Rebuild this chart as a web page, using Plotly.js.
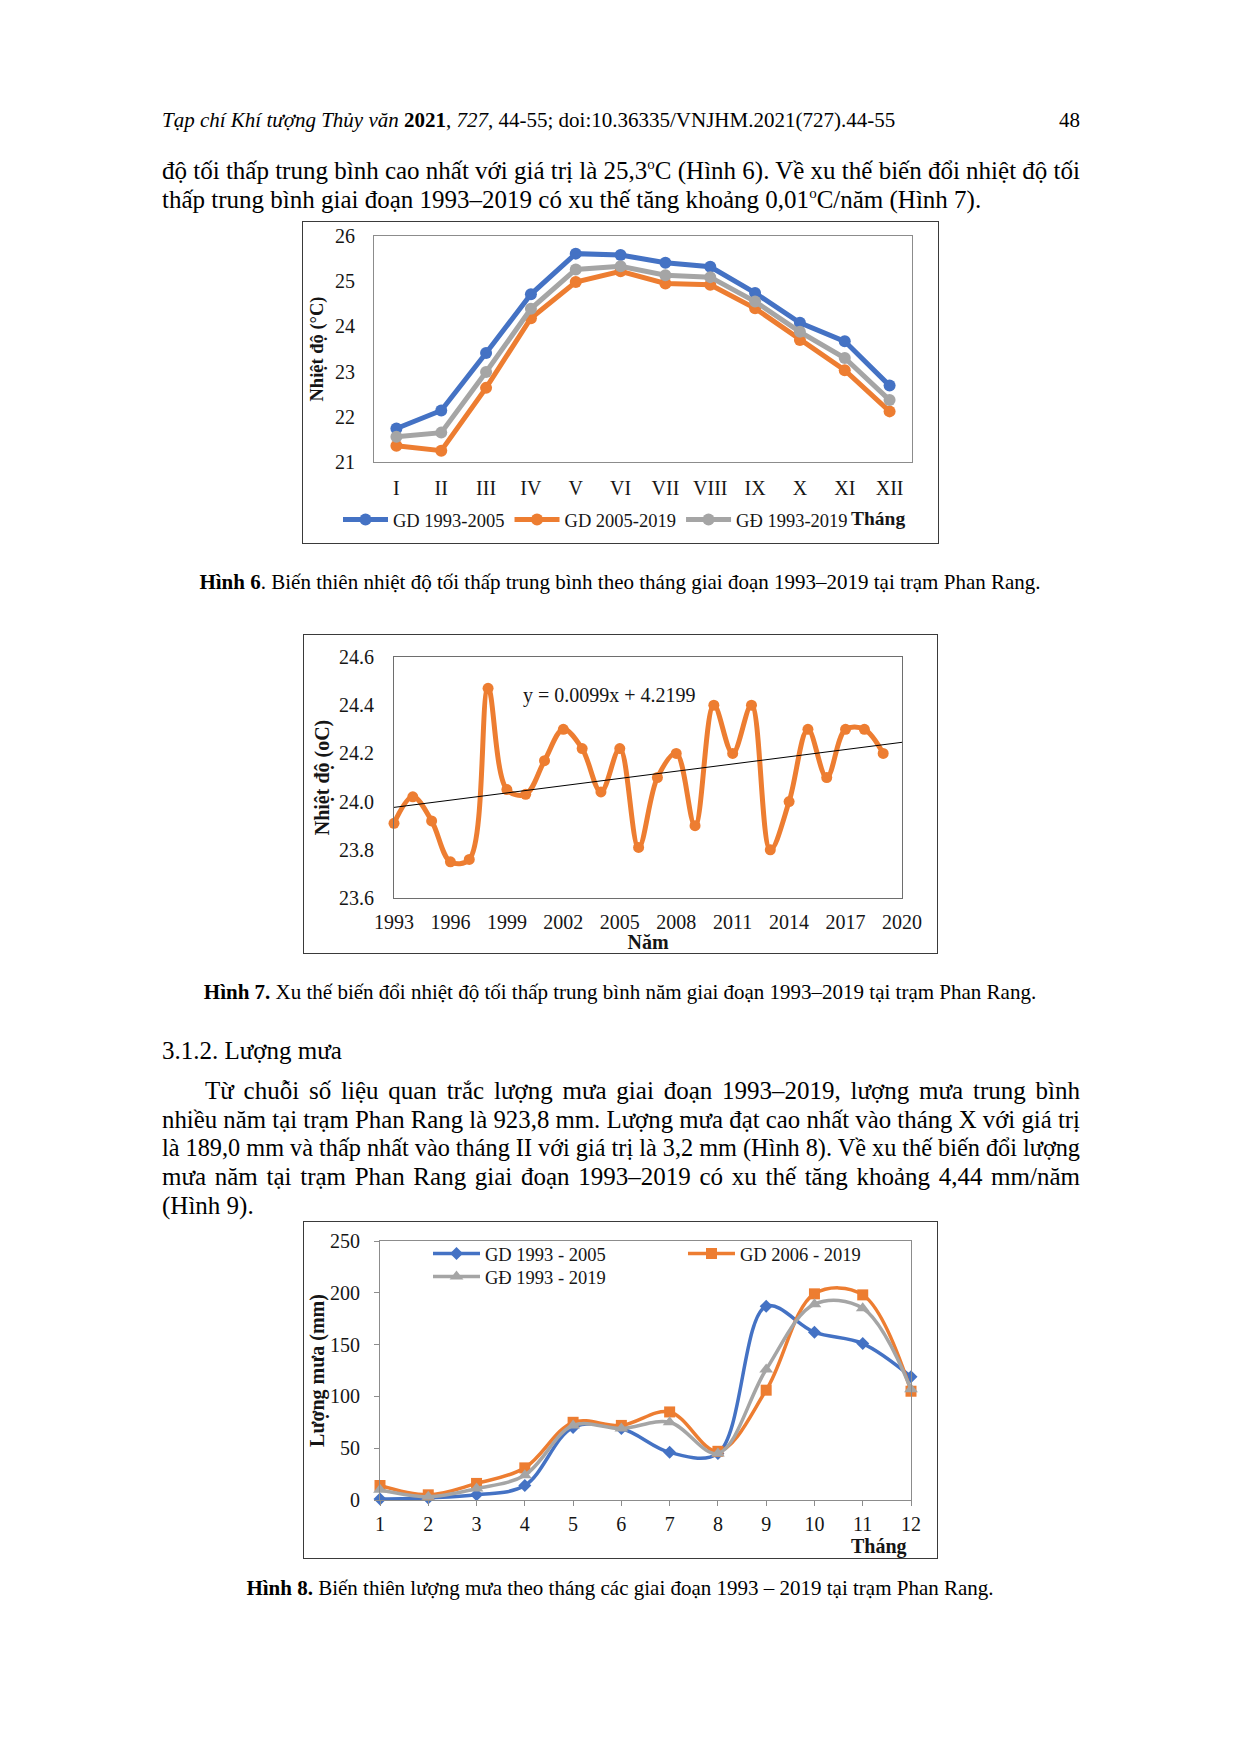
<!DOCTYPE html>
<html>
<head>
<meta charset="utf-8">
<script src="https://cdn.plot.ly/plotly-3.0.1.min.js"></script>
<style>
html,body{margin:0;padding:0;background:#fff;}
#page{position:relative;width:1240px;height:1753px;background:#fff;font-family:"Liberation Serif","Times New Roman",serif;color:#000;overflow:hidden;}
.t{position:absolute;white-space:nowrap;}
.body{font-size:25px;line-height:29px;}
.cap{font-size:21px;line-height:24px;left:0;width:1240px;text-align:center;}
sup{font-size:0.6em;line-height:0;vertical-align:0.65em;}
.frame{position:absolute;box-sizing:border-box;border:1.5px solid #3a3a3a;pointer-events:none;}
.chart{position:absolute;}
</style>
</head>
<body>
<div id="page">

<div class="t" style="left:162px;top:108px;font-size:21px;line-height:24px;"><i>Tạp chí Khí tượng Thủy văn</i> <b>2021</b>, <i>727</i>, 44-55; doi:10.36335/VNJHM.2021(727).44-55</div>
<div class="t" style="left:1040px;width:40px;text-align:right;top:108px;font-size:21px;line-height:24px;">48</div>

<div class="t body" style="left:162px;top:156px;"><span class="jl" data-w="918">độ tối thấp trung bình cao nhất với giá trị là 25,3<sup>o</sup>C (Hình 6). Về xu thế biến đổi nhiệt độ tối</span></div>
<div class="t body" style="left:162px;top:185px;"><span>thấp trung bình giai đoạn 1993–2019 có xu thế tăng khoảng 0,01<sup>o</sup>C/năm (Hình 7).</span></div>

<div id="c1" class="chart" style="left:302px;top:221px;width:636px;height:362px;"></div>
<div class="frame" style="left:302px;top:221px;width:637px;height:323px;"></div>

<div class="t cap" style="top:570px;"><b>Hình 6</b>. Biến thiên nhiệt độ tối thấp trung bình theo tháng giai đoạn 1993–2019 tại trạm Phan Rang.</div>

<div id="c2" class="chart" style="left:303px;top:634px;width:634px;height:319px;"></div>
<div class="frame" style="left:303px;top:634px;width:635px;height:320px;"></div>

<div class="t cap" style="top:980px;"><b>Hình 7.</b> Xu thế biến đổi nhiệt độ tối thấp trung bình năm giai đoạn 1993–2019 tại trạm Phan Rang.</div>

<div class="t body" style="left:162px;top:1036px;">3.1.2. Lượng mưa</div>

<div class="t body" style="left:205px;top:1076px;"><span class="jl" data-w="875">Từ chuỗi số liệu quan trắc lượng mưa giai đoạn 1993–2019, lượng mưa trung bình</span></div>
<div class="t body" style="left:162px;top:1105px;"><span class="jl" data-w="918">nhiều năm tại trạm Phan Rang là 923,8 mm. Lượng mưa đạt cao nhất vào tháng X với giá trị</span></div>
<div class="t body" style="left:162px;top:1133px;"><span class="jl" data-w="918">là 189,0 mm và thấp nhất vào tháng II với giá trị là 3,2 mm (Hình 8). Về xu thế biến đổi lượng</span></div>
<div class="t body" style="left:162px;top:1162px;"><span class="jl" data-w="918">mưa năm tại trạm Phan Rang giai đoạn 1993–2019 có xu thế tăng khoảng 4,44 mm/năm</span></div>
<div class="t body" style="left:162px;top:1191px;"><span>(Hình 9).</span></div>

<div id="c3" class="chart" style="left:303px;top:1221px;width:634px;height:337px;"></div>
<div class="frame" style="left:303px;top:1221px;width:635px;height:338px;"></div>

<div class="t cap" style="top:1576px;"><b>Hình 8.</b> Biến thiên lượng mưa theo tháng các giai đoạn 1993 – 2019 tại trạm Phan Rang.</div>

</div>

<script>
// ---------- Data ----------
// Figure 6: monthly mean minimum temperature (°C)
const months = ['I','II','III','IV','V','VI','VII','VIII','IX','X','XI','XII'];
const tmin_1993_2005 = [21.74, 22.14, 23.41, 24.71, 25.61, 25.58, 25.41, 25.32, 24.74, 24.08, 23.67, 22.69];
const tmin_2005_2019 = [21.36, 21.25, 22.64, 24.18, 24.98, 25.22, 24.95, 24.92, 24.40, 23.70, 23.03, 22.12];
const tmin_1993_2019 = [21.56, 21.65, 22.99, 24.39, 25.26, 25.33, 25.13, 25.09, 24.55, 23.88, 23.30, 22.37];
const fig6Names = ['GD 1993-2005', 'GD 2005-2019', 'GĐ 1993-2019'];
const fig6Ticks = [21, 22, 23, 24, 25, 26];

// Figure 7: annual mean minimum temperature (°C)
const years = [1993,1994,1995,1996,1997,1998,1999,2000,2001,2002,2003,2004,2005,2006,2007,2008,2009,2010,2011,2012,2013,2014,2015,2016,2017,2018,2019];
const tminAnnual = [23.91,24.02,23.92,23.75,23.76,24.47,24.05,24.03,24.17,24.30,24.22,24.04,24.22,23.81,24.10,24.20,23.90,24.40,24.20,24.40,23.80,24.00,24.30,24.10,24.30,24.30,24.20];
const trendYears = [1993, 2020];
const trendValues = [23.976, 24.246];
const trendLabel = 'y = 0.0099x + 4.2199';
const fig7YearTicks = [1993,1996,1999,2002,2005,2008,2011,2014,2017,2020];
const fig7TempTicks = [23.6,23.8,24.0,24.2,24.4,24.6];

// Figure 8: monthly rainfall (mm)
const monthNums = [1,2,3,4,5,6,7,8,9,10,11,12];
const rain_1993_2005 = [1, 2, 5, 14, 70, 69, 46, 45, 187, 162, 151, 119];
const rain_2006_2019 = [14, 5, 16, 31, 75, 72, 85, 47, 106, 199, 198, 105];
const rain_1993_2019 = [10, 3.2, 11, 24, 72, 69, 75, 45, 126, 189, 185, 107];
const fig8Names = ['GD 1993 - 2005', 'GD 2006 - 2019', 'GĐ 1993 - 2019'];
const fig8Ticks = [0, 50, 100, 150, 200, 250];

// ---------- Styles ----------
const FONT = 'Liberation Serif, Times New Roman, serif';
const BLUE = '#4472C4', ORANGE = '#ED7D31', GRAY = '#A5A5A5';
const TXT = '#151515';
const cfg = {staticPlot: true, displayModeBar: false};

// ---------- Figure 6 ----------
function lm(x, y, name, color) {
  return {x: x, y: y, name: name, type: 'scatter', mode: 'lines+markers',
    line: {color: color, width: 5}, marker: {size: 12, color: color}, cliponaxis: false};
}
Plotly.newPlot('c1', [
  lm(months, tmin_1993_2005, fig6Names[0], BLUE),
  lm(months, tmin_2005_2019, fig6Names[1], ORANGE),
  lm(months, tmin_1993_2019, fig6Names[2], GRAY)
], {
  width: 636, height: 362,
  margin: {l: 72, r: 26, t: 15, b: 121, pad: 0},
  paper_bgcolor: 'rgba(0,0,0,0)', plot_bgcolor: '#fff',
  font: {family: FONT, size: 18.5, color: TXT},
  showlegend: true,
  xaxis: {type: 'category', range: [-0.5, 11.5], showgrid: false, zeroline: false,
    showline: true, mirror: true, linecolor: '#8c8c8c', linewidth: 1,
    ticks: '', ticklabelstandoff: 8, tickfont: {size: 20}},
  yaxis: {range: [21, 26], tickvals: fig6Ticks, showgrid: false, zeroline: false,
    showline: true, mirror: true, linecolor: '#8c8c8c', linewidth: 1,
    ticks: '', ticklabelstandoff: 14, tickfont: {size: 20},
    title: {text: '<b>Nhiệt độ (°C)</b>', font: {size: 18.5}, standoff: 6}},
  legend: {orientation: 'h', x: -0.0669, xanchor: 'left', y: -0.257, yanchor: 'middle',
    itemwidth: 45, font: {size: 18.5}, bgcolor: 'rgba(0,0,0,0)', traceorder: 'normal'},
  annotations: [{text: '<b>Tháng</b>', xref: 'paper', yref: 'paper', x: 0.937, y: -0.25,
    xanchor: 'center', yanchor: 'middle', showarrow: false, font: {size: 19.5}}]
}, cfg);

// ---------- Figure 7 ----------
Plotly.newPlot('c2', [
  {x: years, y: tminAnnual, type: 'scatter', mode: 'lines+markers', name: 'Nhiệt độ',
    line: {color: ORANGE, width: 5, shape: 'spline', smoothing: 1},
    marker: {size: 11, color: ORANGE}, cliponaxis: false, showlegend: false},
  {x: trendYears, y: trendValues, type: 'scatter', mode: 'lines', name: 'Xu thế',
    line: {color: '#000', width: 1}, showlegend: false}
], {
  width: 634, height: 319,
  margin: {l: 91, r: 35, t: 23, b: 55, pad: 0},
  paper_bgcolor: '#fff', plot_bgcolor: '#fff',
  font: {family: FONT, size: 20, color: TXT},
  xaxis: {range: [1993, 2020], tickvals: fig7YearTicks, showgrid: false, zeroline: false,
    showline: true, mirror: true, linecolor: '#6e6e6e', linewidth: 1,
    ticks: '', ticklabelstandoff: 6, tickfont: {size: 20},
    title: {text: '<b>Năm</b>', font: {size: 20}, standoff: 0}},
  yaxis: {range: [23.6, 24.6], tickvals: fig7TempTicks, tickformat: '.1f', showgrid: false, zeroline: false,
    showline: true, mirror: true, linecolor: '#6e6e6e', linewidth: 1,
    ticks: '', ticklabelstandoff: 15, tickfont: {size: 20},
    title: {text: '<b>Nhiệt độ (oC)</b>', font: {size: 20}, standoff: 4}},
  annotations: [{text: trendLabel, xref: 'x', yref: 'y', x: 2004.46, y: 24.44,
    xanchor: 'center', yanchor: 'middle', showarrow: false, font: {size: 20}}]
}, cfg);

// ---------- Figure 8 ----------
function sm(x, y, name, color, symbol, size, leg) {
  return {x: x, y: y, name: name, type: 'scatter', mode: 'lines+markers', legend: leg,
    line: {color: color, width: 3.5, shape: 'spline', smoothing: 1},
    marker: {size: size, color: color, symbol: symbol}, cliponaxis: false};
}
Plotly.newPlot('c3', [
  sm(monthNums, rain_1993_2005, fig8Names[0], BLUE, 'diamond', 10, 'legend'),
  sm(monthNums, rain_2006_2019, fig8Names[1], ORANGE, 'square', 11, 'legend2'),
  sm(monthNums, rain_1993_2019, fig8Names[2], GRAY, 'triangle-up', 12, 'legend3')
], {
  width: 634, height: 337,
  margin: {l: 77, r: 26, t: 20, b: 58, pad: 0},
  paper_bgcolor: '#fff', plot_bgcolor: '#fff',
  font: {family: FONT, size: 20, color: TXT},
  showlegend: true,
  xaxis: {range: [1, 12], tickvals: monthNums, showgrid: false, zeroline: false,
    showline: true, mirror: true, linecolor: '#8c8c8c', linewidth: 1,
    ticks: 'outside', ticklen: 5, tickcolor: '#8c8c8c', ticklabelstandoff: 1, tickfont: {size: 20}},
  yaxis: {range: [0, 250], tickvals: fig8Ticks, showgrid: false, zeroline: false,
    showline: true, mirror: true, linecolor: '#8c8c8c', linewidth: 1,
    ticks: 'outside', ticklen: 5, tickcolor: '#8c8c8c', ticklabelstandoff: 10, tickfont: {size: 20},
    title: {text: '<b>Lượng mưa (mm)</b>', font: {size: 20}, standoff: 0}},
  legend: {x: 0.0904, xanchor: 'left', y: 0.95, yanchor: 'middle', itemwidth: 47,
    font: {size: 18.5}, bgcolor: 'rgba(0,0,0,0)'},
  legend2: {x: 0.5706, xanchor: 'left', y: 0.95, yanchor: 'middle', itemwidth: 47,
    font: {size: 18.5}, bgcolor: 'rgba(0,0,0,0)'},
  legend3: {x: 0.0904, xanchor: 'left', y: 0.861, yanchor: 'middle', itemwidth: 47,
    font: {size: 18.5}, bgcolor: 'rgba(0,0,0,0)'},
  annotations: [{text: '<b>Tháng</b>', xref: 'paper', yref: 'paper', x: 0.94, y: -0.18,
    xanchor: 'center', yanchor: 'middle', showarrow: false, font: {size: 20}}]
}, cfg);

// ---------- Justify body lines ----------
function fitLines() {
  document.querySelectorAll('.jl').forEach(function (sp) {
    var target = parseFloat(sp.getAttribute('data-w'));
    sp.style.wordSpacing = '0px';
    sp.style.transform = '';
    sp.style.display = 'inline';
    var nat = sp.getBoundingClientRect().width;
    var n = (sp.textContent.match(/ /g) || []).length;
    if (nat <= target) {
      if (n) sp.style.wordSpacing = ((target - nat) / n) + 'px';
    } else {
      sp.style.display = 'inline-block';
      sp.style.transformOrigin = '0 50%';
      sp.style.transform = 'scaleX(' + (target / nat) + ')';
    }
  });
}
fitLines();
if (document.fonts && document.fonts.ready) document.fonts.ready.then(fitLines);
</script>
</body>
</html>
